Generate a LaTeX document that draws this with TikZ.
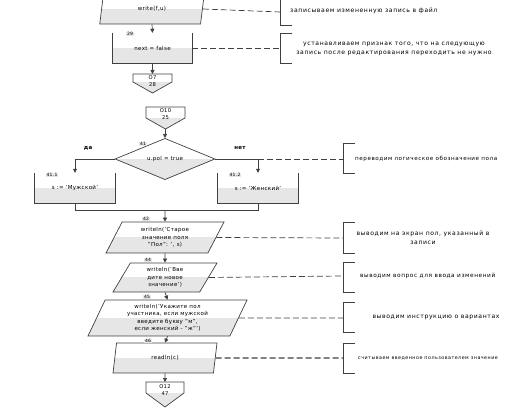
\documentclass[tikz,border=0pt]{standalone}
\usepackage{fontspec}
\setsansfont[LetterSpace=6]{DejaVu Sans}
\newfontfamily\cmtfont[LetterSpace=10]{DejaVu Sans}
\usetikzlibrary{shapes.geometric,arrows.meta}
\definecolor{lnc}{HTML}{404040}
\definecolor{shd}{HTML}{E6E6E6}

\begin{document}
\begin{tikzpicture}[x=1pt,y=-1pt,auto=center,
	>={Triangle[length=4pt,width=4pt]},
	ln/.style={draw=lnc,line width=0.7pt},
	dsh/.style={draw=lnc,line width=0.7pt,dash pattern=on 6pt off 3pt},
	brk/.style={draw=lnc,line width=0.7pt},
	lowshade/.style={path picture={\fill[shd] (path picture bounding box.west) rectangle (path picture bounding box.south east);}},
	io/.style={trapezium,trapezium stretches body,draw=lnc,line width=0.7pt,inner sep=0pt,align=center,font=\sffamily\fontsize{5.5}{7.5}\selectfont,lowshade},
	proc/.style={rectangle,inner sep=0pt,align=center,font=\sffamily\fontsize{5.5}{7.5}\selectfont,lowshade},
	cond/.style={diamond,draw=lnc,line width=0.7pt,inner sep=0pt,font=\sffamily\fontsize{5.5}{7.5}\selectfont,lowshade},
	code/.style={inner sep=0pt,align=center,font=\sffamily\fontsize{5.2}{7}\selectfont},
	lbl/.style={fill=shd,inner sep=0.6pt,font=\sffamily\fontsize{4.5}{5}\selectfont},
	cmt/.style={inner sep=0pt,align=center,font=\cmtfont\fontsize{6.1}{9}\selectfont}]
	\useasboundingbox (0,0) rectangle (511,411);

	\node[io,minimum width=104.5pt,minimum height=30pt,trapezium left angle=53,trapezium right angle=127] (wr) at (152,9) {write(f,u)};
	\coordinate (k28) at (280,12);
	\draw[dsh] (wr.east) -- (k28);
	\draw[brk] (292,-2) -| (280,25) -- (292,25);
	\node[cmt,anchor=west] (t28) at (290,11) {записываем измененную запись в файл};

	\node[proc,minimum width=79pt,minimum height=30pt] (b29) at (152.5,48) {next = false};
	\draw[ln] (b29.north west) |- (b29.south east) -- (b29.north east);
	\node[lbl] (l29) at (130,34) {29};
	\draw[ln,->] (wr.south) -- (b29.north);
	\coordinate (k29) at (280,48);
	\draw[dsh] (b29.east) -- (k29);
	\draw[brk] (292,33) -| (280,63) -- (292,63);
	\node[cmt] (t29) at (394,48.5) {устанавливаем признак того, что на следующую\\запись после редактирования переходить не нужно};

	\fill[shd] (133,82) -- (172,82) -- (152.5,93) -- cycle;
	\draw[ln] (133,74) -- (172,74) -- (172,82) -- (152.5,93) -- (133,82) -- cycle;
	\coordinate (c7) at (152.5,74);
	\node[code] (n7) at (152.5,81) {О7\\28};
	\draw[ln,->] (b29.south) -- (c7);

	\fill[shd] (146,118) -- (185,118) -- (165.5,129) -- cycle;
	\draw[ln] (146,107) -- (185,107) -- (185,118) -- (165.5,129) -- (146,118) -- cycle;
	\coordinate (c10) at (165,129);
	\node[code] (n10) at (165.5,114) {О10\\25};

	\node[cond,minimum width=100pt,minimum height=40pt] (d41) at (165,159) {u.pol = true};
	\node[lbl] (l41) at (143,144) {41};
	\draw[ln,->] (c10) -- (d41.north);

	\node[proc,minimum width=80pt,minimum height=30pt] (b411) at (75,188) {s := 'Мужской'};
	\draw[ln] (b411.north west) |- (b411.south east) -- (b411.north east);
	\node[lbl] (l411) at (52,175) {41.1};
	\node[proc,minimum width=80pt,minimum height=30pt] (b412) at (258,188) {s := 'Женский'};
	\draw[ln] (b412.north west) |- (b412.south east) -- (b412.north east);
	\node[lbl] (l412) at (235,175) {41.2};
	\draw[ln,->] (d41.west) -| (b411.north);
	\draw[ln,->] (d41.east) -| (b412.north);
	\node[code,font=\sffamily\bfseries\fontsize{5.5}{7}\selectfont] (yes) at (88,148) {да};
	\node[code,font=\sffamily\bfseries\fontsize{5.5}{7}\selectfont] (no) at (240,148) {нет};
	\coordinate (m41) at (b412.north |- d41.east);
	\coordinate (k41) at (343,159);
	\draw[dsh] (m41) -- (k41);
	\draw[brk] (355,143) -| (343,173) -- (355,173);
	\node[cmt,anchor=west,font=\cmtfont\fontsize{5.6}{9}\selectfont] (t41) at (355,159) {переводим логическое обозначение пола};

	\coordinate (j42) at (165,210);
	\draw[ln] (b411.south) |- (j42);
	\draw[ln] (b412.south) |- (j42);

	\node[io,minimum width=118pt,minimum height=31pt,trapezium left angle=51,trapezium right angle=129] (b42) at (165,237.5) {writeln('Старое\\значение поля\\"Пол": ', s)};
	\node[lbl] (l42) at (146,219) {42};
	\draw[ln,->] (j42) -- (b42.north);
	\coordinate (k42) at (343,238);
	\draw[dsh] (b42.east) -- (k42);
	\draw[brk] (355,222) -| (343,253) -- (355,253);
	\node[cmt] (t42) at (423,237.5) {выводим на экран пол, указанный в\\записи};

	\node[io,minimum width=104pt,minimum height=29pt,trapezium left angle=49,trapezium right angle=131] (b44) at (165,277.5) {writeln('Вве\\дите новое\\значение')};
	\node[lbl] (l44) at (148,260) {44};
	\draw[ln,->] (b42.south) -- (b44.north);
	\coordinate (k44) at (343,276);
	\draw[dsh] (b44.east) -- (k44);
	\draw[brk] (355,262) -| (343,292) -- (355,292);
	\node[cmt,anchor=west,font=\cmtfont\fontsize{5.8}{9}\selectfont] (t44) at (360,276) {выводим вопрос для ввода изменений};

	\node[io,minimum width=159pt,minimum height=36pt,trapezium left angle=58,trapezium right angle=122] (b45) at (167.5,318) {writeln('Укажите пол\\участника, если мужской\\введите букву "м",\\если женский - "ж"')};
	\node[lbl] (l45) at (147,297) {45};
	\draw[ln,->] (b44.south) -- (b45.north);
	\coordinate (k45) at (343,318);
	\draw[dsh] (b45.east) -- (k45);
	\draw[brk] (355,302) -| (343,332) -- (355,332);
	\node[cmt] (t45) at (436,317) {выводим инструкцию о вариантах};

	\node[io,minimum width=104pt,minimum height=30pt,trapezium left angle=54,trapezium right angle=126] (b46) at (165,358) {readln(c)};
	\node[lbl] (l46) at (148,341) {46};
	\draw[ln,->] (b45.south) -- (b46.north);
	\coordinate (k46) at (343,358);
	\draw[dsh,line width=1.3pt] (b46.east) -- (k46);
	\draw[brk] (355,343) -| (343,373) -- (355,373);
	\node[cmt,anchor=west,font=\cmtfont\fontsize{4.8}{9}\selectfont] (t46) at (358,358) {считываем введенное пользователем значение};

	\fill[shd] (146,393) -- (184,393) -- (165,407) -- cycle;
	\draw[ln] (146,382) -- (184,382) -- (184,393) -- (165,407) -- (146,393) -- cycle;
	\coordinate (c12) at (165,382);
	\node[code] (n12) at (165,390) {О12\\47};
	\draw[ln,->] (b46.south) -- (c12);
\end{tikzpicture}
\end{document}
